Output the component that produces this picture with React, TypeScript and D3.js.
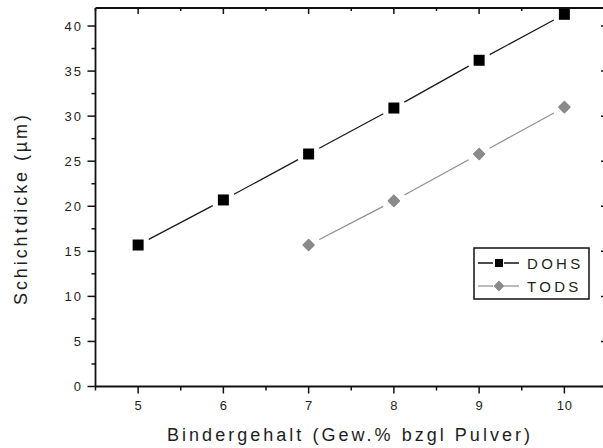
import React from "react";
import * as d3 from "d3";

// Binder content (wt.%) and resulting layer thickness (µm)
const dohsX = [5, 6, 7, 8, 9, 10];
const dohsY = [15.7, 20.7, 25.8, 30.9, 36.2, 41.3];
const todsX = [7, 8, 9, 10];
const todsY = [15.7, 20.6, 25.8, 31.0];
const xTicks = [5, 6, 7, 8, 9, 10];
const xMinor = [4.5, 5.5, 6.5, 7.5, 8.5, 9.5, 10.5];
const yTicks = [0, 5, 10, 15, 20, 25, 30, 35, 40];
const yMinor = [2.5, 7.5, 12.5, 17.5, 22.5, 27.5, 32.5, 37.5];
const seriesNames = ["DOHS", "TODS"];

const W = 603;
const H = 448;
const left = 95.5;
const right = 607;
const top = 8;
const bottom = 386.5;

const x = d3.scaleLinear().domain([4.5, 10.5]).range([left, right]);
const y = d3.scaleLinear().domain([0, 42]).range([bottom, top]);

const AXIS = "#111";
const TEXT = "#1e1e1e";
const FONT = "'Liberation Sans', Arial, sans-serif";

type Pt = [number, number];

// Connecting segments that stop short of each marker
function gappedSegments(xs: number[], ys: number[], gap: number): string[] {
  const pts: Pt[] = xs.map((v, i) => [x(v), y(ys[i])]);
  const line = d3.line();
  const out: string[] = [];
  for (let i = 0; i < pts.length - 1; i++) {
    const [x0, y0] = pts[i];
    const [x1, y1] = pts[i + 1];
    const len = Math.hypot(x1 - x0, y1 - y0);
    const ux = (x1 - x0) / len;
    const uy = (y1 - y0) / len;
    out.push(
      line([
        [x0 + ux * gap, y0 + uy * gap],
        [x1 - ux * gap, y1 - uy * gap],
      ]) as string
    );
  }
  return out;
}

function diamond(cx: number, cy: number, r: number) {
  return `M${cx},${cy - r}L${cx + r},${cy}L${cx},${cy + r}L${cx - r},${cy}Z`;
}

export default function App() {
  const dohsSegs = gappedSegments(dohsX, dohsY, 12);
  const todsSegs = gappedSegments(todsX, todsY, 12);
  const lgX = 474;
  const lgY = 248;

  return (
    <svg
      width={W}
      height={H}
      style={{ position: "absolute", left: 0, top: 0, background: "#fff" }}
      fontFamily={FONT}
    >
      <rect width={W} height={H} fill="#fff" />

      {/* frame */}
      <g stroke={AXIS} strokeWidth={1.8} fill="none">
        <line x1={left} y1={bottom} x2={right} y2={bottom} />
        <line x1={left} y1={top} x2={right} y2={top} />
        <line x1={left} y1={top} x2={left} y2={bottom} />
        <line x1={right} y1={top} x2={right} y2={bottom} />
      </g>

      {/* x ticks */}
      <g stroke={AXIS} strokeWidth={1.5}>
        {xTicks.map((t) => (
          <g key={"xt" + t}>
            <line x1={x(t)} x2={x(t)} y1={bottom} y2={bottom + 7} />
            <line x1={x(t)} x2={x(t)} y1={top} y2={top + 6} />
          </g>
        ))}
        {xMinor.map((t) => (
          <g key={"xm" + t}>
            <line x1={x(t)} x2={x(t)} y1={bottom} y2={bottom + 4} />
            <line x1={x(t)} x2={x(t)} y1={top} y2={top + 3} />
          </g>
        ))}
      </g>
      <g fill={TEXT} fontSize={13} textAnchor="middle" letterSpacing={1}>
        {xTicks.map((t) => (
          <text key={"xl" + t} x={x(t) + 0.5} y={410}>
            {t}
          </text>
        ))}
      </g>

      {/* y ticks */}
      <g stroke={AXIS} strokeWidth={1.5}>
        {yTicks.map((t) => (
          <g key={"yt" + t}>
            <line x1={left - 8} x2={left} y1={y(t)} y2={y(t)} />
            <line x1={right - 6} x2={right} y1={y(t)} y2={y(t)} />
          </g>
        ))}
        {yMinor.map((t) => (
          <g key={"ym" + t}>
            <line x1={left - 4} x2={left} y1={y(t)} y2={y(t)} />
            <line x1={right - 3} x2={right} y1={y(t)} y2={y(t)} />
          </g>
        ))}
      </g>
      <g fill={TEXT} fontSize={13} textAnchor="end" letterSpacing={2}>
        {yTicks.map((t) => (
          <text key={"yl" + t} x={83} y={y(t) + 4.7}>
            {t}
          </text>
        ))}
      </g>

      {/* axis titles */}
      <text
        x={167}
        y={441}
        fontSize={18}
        fill={TEXT}
        textLength={363}
        lengthAdjust="spacing"
      >
        Bindergehalt (Gew.% bzgl Pulver)
      </text>
      <text
        transform="translate(27,305) rotate(-90)"
        x={0}
        y={0}
        fontSize={18}
        fill={TEXT}
        textLength={190}
        lengthAdjust="spacing"
      >
        Schichtdicke (µm)
      </text>

      {/* DOHS series */}
      <g stroke="#1a1a1a" strokeWidth={1.3} fill="none">
        {dohsSegs.map((d, i) => (
          <path key={"ds" + i} d={d} />
        ))}
      </g>
      <g fill="#000">
        {dohsX.map((v, i) => (
          <rect
            key={"dm" + i}
            x={x(v) - 5.5}
            y={y(dohsY[i]) - 5.5}
            width={11}
            height={11}
          />
        ))}
      </g>

      {/* TODS series */}
      <g stroke="#8e8e8e" strokeWidth={1.2} fill="none">
        {todsSegs.map((d, i) => (
          <path key={"ts" + i} d={d} />
        ))}
      </g>
      <g fill="#8a8a8a" stroke="#8a8a8a" strokeWidth={1.5} strokeLinejoin="round">
        {todsX.map((v, i) => (
          <path key={"tm" + i} d={diamond(x(v), y(todsY[i]), 5.5)} />
        ))}
      </g>

      {/* legend */}
      <g>
        <rect
          x={lgX}
          y={lgY}
          width={115}
          height={51}
          fill="#fff"
          stroke={AXIS}
          strokeWidth={1.5}
        />
        <line x1={lgX + 4} x2={lgX + 19} y1={263} y2={263} stroke="#111" strokeWidth={1.5} />
        <line x1={lgX + 30} x2={lgX + 45} y1={263} y2={263} stroke="#111" strokeWidth={1.5} />
        <rect x={lgX + 21} y={259} width={8} height={8} fill="#000" />
        <line x1={lgX + 4} x2={lgX + 19} y1={286} y2={286} stroke="#8e8e8e" strokeWidth={1.2} />
        <line x1={lgX + 30} x2={lgX + 45} y1={286} y2={286} stroke="#8e8e8e" strokeWidth={1.2} />
        <path
          d={diamond(lgX + 25, 286, 4.5)}
          fill="#8a8a8a"
          stroke="#8a8a8a"
          strokeWidth={1.2}
          strokeLinejoin="round"
        />
        <text x={lgX + 53} y={268.5} fontSize={15} fill={TEXT} letterSpacing={3.3}>
          {seriesNames[0]}
        </text>
        <text x={lgX + 53} y={291.8} fontSize={15} fill={TEXT} letterSpacing={3.3}>
          {seriesNames[1]}
        </text>
      </g>
    </svg>
  );
}
